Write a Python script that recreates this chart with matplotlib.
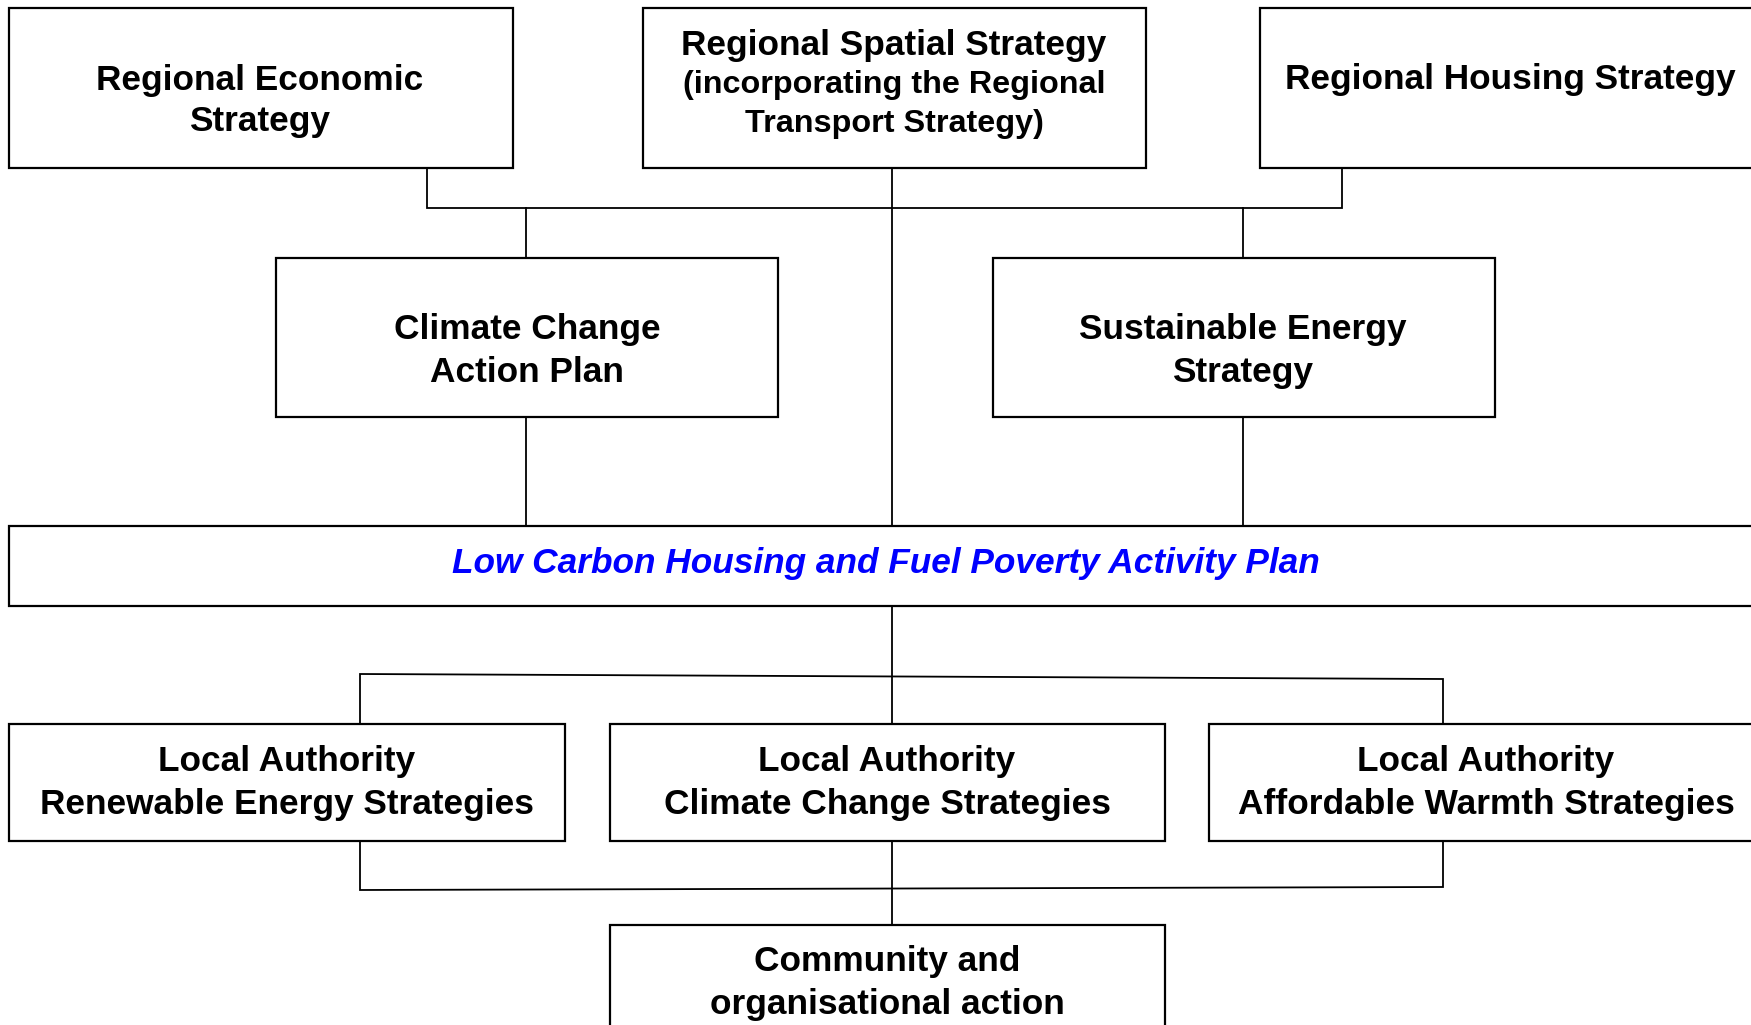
import matplotlib
matplotlib.use("Agg")
import matplotlib.pyplot as plt
from matplotlib.patches import Rectangle

plt.rcParams['font.family'] = ['Liberation Sans', 'DejaVu Sans']

# Box geometry (pixel units): left, top, right, bottom
box_left   = [9, 643, 1260, 276, 993, 9, 9, 610, 1209, 610]
box_top    = [8, 8, 8, 258, 258, 526, 724, 724, 724, 925]
box_right  = [513, 1146, 1764, 778, 1495, 1760, 565, 1165, 1764, 1165]
box_bottom = [168, 168, 168, 417, 417, 606, 841, 841, 841, 1040]

# Text labels
labels = [
    "Regional Economic\nStrategy",
    "Regional Spatial Strategy",
    "(incorporating the Regional",
    "Transport Strategy)",
    "Regional Housing Strategy",
    "Climate Change\nAction Plan",
    "Sustainable Energy\nStrategy",
    "Low Carbon Housing and Fuel Poverty Activity Plan",
    "Local Authority\nRenewable Energy Strategies",
    "Local Authority\nClimate Change Strategies",
    "Local Authority\nAffordable Warmth Strategies",
    "Community and\norganisational action",
]
text_x = [260, 894, 894, 894, 1510, 527, 1243, 886, 287, 887, 1486, 887]
text_y = [101, 45, 85, 124, 80, 351, 351, 563, 783, 783, 783, 983]
text_size = [25.4, 25.4, 23.3, 23.3, 25.4, 25.4, 25.4, 25.4, 25.4, 25.4, 25.4, 25.4]
text_color = ['black'] * 7 + ['#0000ff'] + ['black'] * 4
text_style = ['normal'] * 7 + ['italic'] + ['normal'] * 4
line_spacing = [1.32, 1, 1, 1, 1, 1.36, 1.36, 1, 1.36, 1.36, 1.36, 1.38]

# Connector polylines (pixel units)
connectors = [
    ([427, 427, 1342, 1342], [168, 208, 208, 168]),
    ([892, 892], [168, 526]),
    ([526, 526], [208, 258]),
    ([1243, 1243], [208, 258]),
    ([526, 526], [417, 526]),
    ([1243, 1243], [417, 526]),
    ([892, 892], [606, 724]),
    ([360, 360, 1443, 1443], [724, 674, 679, 724]),
    ([360, 360, 1443, 1443], [841, 890, 887, 841]),
    ([892, 892], [841, 925]),
]

W, H = 1751, 1025
fig = plt.figure(figsize=(W / 100, H / 100), dpi=100)
ax = fig.add_axes([0, 0, 1, 1])
ax.set_xlim(0, W)
ax.set_ylim(H, 0)
ax.axis('off')

for xs, ys in connectors:
    ax.plot(xs, ys, color='black', lw=1.3, solid_joinstyle='miter', zorder=1)

for i in range(len(box_left)):
    l, t, r, b = box_left[i], box_top[i], box_right[i], box_bottom[i]
    ax.add_patch(Rectangle((l, t), r - l, b - t, facecolor='white',
                           edgecolor='black', lw=1.6, zorder=2))

for i, lab in enumerate(labels):
    ax.text(text_x[i], text_y[i], lab, ha='center', va='center',
            fontsize=text_size[i], fontweight='bold', color=text_color[i],
            style=text_style[i], linespacing=line_spacing[i], zorder=3)

fig.savefig('out.png', dpi=100, facecolor='white')
